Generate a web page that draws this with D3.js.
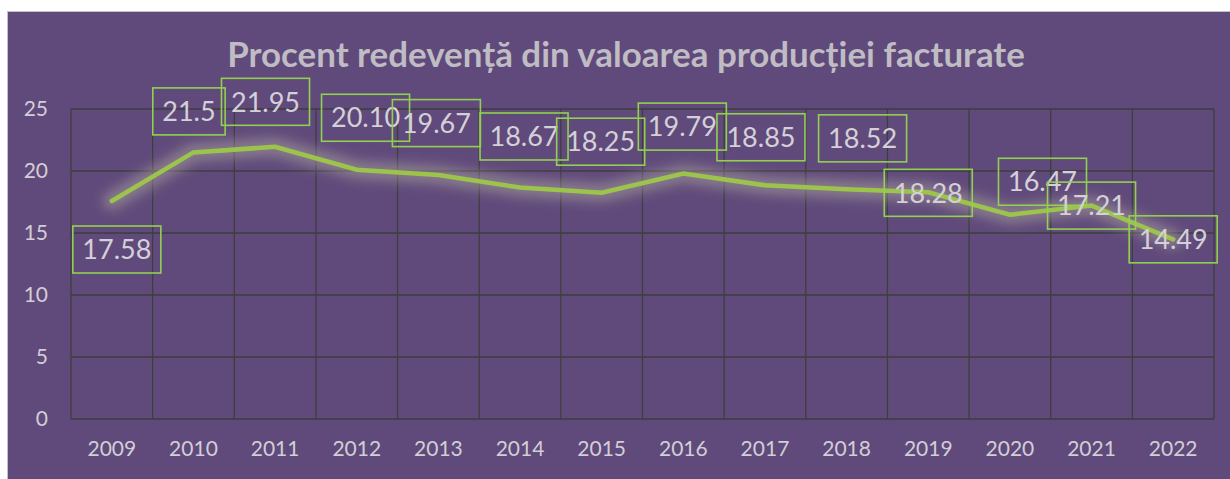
<!DOCTYPE html>
<html>
<head>
<meta charset="utf-8">
<script src="https://cdn.jsdelivr.net/npm/d3@7"></script>
<style>
  html, body { margin: 0; padding: 0; background: #ffffff; }
  svg { display: block; }
  text { font-family: Lato, "Open Sans", sans-serif; }
</style>
</head>
<body>
<svg id="chart" width="1230" height="479"></svg>
<script>
// ---- data ----
const titleText = "Procent redevență din valoarea producției facturate";
const years = ["2009","2010","2011","2012","2013","2014","2015","2016","2017","2018","2019","2020","2021","2022"];
const values = [17.58, 21.5, 21.95, 20.10, 19.67, 18.67, 18.25, 19.79, 18.85, 18.52, 18.28, 16.47, 17.21, 14.49];
const valueLabels = ["17.58","21.5","21.95","20.10","19.67","18.67","18.25","19.79","18.85","18.52","18.28","16.47","17.21","14.49"];
const yTicks = [0, 5, 10, 15, 20, 25];

// ---- layout (label box centre offsets from each point, in px) ----
const labelOffsets = [[5,48.5],[-4.5,-41],[-9.6,-45],[8.8,-52],[-2,-52],[4,-51],[-1,-51],[-1,-47],[-4,-48],[16,-51],[0,0.5],[32.6,-33],[0,0],[0,0]];

const svg = d3.select("#chart");
const W = 1230, H = 479;
const plot = {left: 71, right: 1214, top: 109, bottom: 419};

// background panel
svg.append("rect")
  .attr("x", 7.5).attr("y", 11.5)
  .attr("width", W).attr("height", H)
  .attr("fill", "#604a7b")
  .attr("stroke", "#c4c0c8").attr("stroke-width", 1);

const x = d3.scaleBand().domain(years).range([plot.left, plot.right]).padding(0);
const y = d3.scaleLinear().domain([0, 25]).range([plot.bottom, plot.top]);

const grid = svg.append("g");
grid.selectAll("line.h").data(yTicks).join("line")
  .attr("x1", plot.left).attr("x2", plot.right)
  .attr("y1", d => y(d)).attr("y2", d => y(d))
  .attr("stroke", "#3e3e3e").attr("stroke-width", 1.3);
const bounds = years.map(d => x(d)).concat([x(years[years.length-1]) + x.bandwidth()]);
grid.selectAll("line.v").data(bounds).join("line")
  .attr("x1", d => d).attr("x2", d => d)
  .attr("y1", plot.top).attr("y2", plot.bottom)
  .attr("stroke", "#3e3e3e").attr("stroke-width", 1.3);

// y axis
const yAxis = svg.append("g").attr("transform", `translate(${plot.left},0)`)
  .call(d3.axisLeft(y).tickValues(yTicks).tickSize(0).tickPadding(23));
yAxis.select(".domain").remove();
yAxis.selectAll("text").attr("fill", "#d2ced6").attr("font-size", 21).attr("font-family", "Lato, sans-serif");

// x axis
const xAxis = svg.append("g").attr("transform", `translate(0,${plot.bottom})`)
  .call(d3.axisBottom(x).tickSize(0).tickPadding(22));
xAxis.select(".domain").remove();
xAxis.selectAll("text").attr("fill", "#d2ced6").attr("font-size", 21).attr("font-family", "Lato, sans-serif");

// glow filter
const defs = svg.append("defs");
const f = defs.append("filter").attr("id", "glow")
  .attr("x", "-10%").attr("y", "-50%").attr("width", "120%").attr("height", "200%");
f.append("feGaussianBlur").attr("stdDeviation", 6);

const line = d3.line()
  .x((d, i) => x(years[i]) + x.bandwidth() / 2)
  .y(d => y(d));

svg.append("path").datum(values)
  .attr("d", line)
  .attr("fill", "none")
  .attr("stroke", "#aaa39a").attr("stroke-opacity", 0.55)
  .attr("stroke-width", 18).attr("stroke-linejoin", "round").attr("stroke-linecap", "round")
  .attr("filter", "url(#glow)");

svg.append("path").datum(values)
  .attr("d", line)
  .attr("fill", "none")
  .attr("stroke", "#9cc44c")
  .attr("stroke-width", 4.5)
  .attr("stroke-linecap", "round")
  .attr("stroke-linejoin", "miter");

// data labels
const labels = svg.append("g");
values.forEach((v, i) => {
  const cx = x(years[i]) + x.bandwidth() / 2 + labelOffsets[i][0];
  const cy = y(v) + labelOffsets[i][1];
  const g = labels.append("g");
  const t = g.append("text")
    .attr("x", cx).attr("y", cy)
    .attr("text-anchor", "middle").attr("dy", "0.36em")
    .attr("font-size", 27).attr("fill", "#d4d0d8")
    .text(valueLabels[i]);
  const w = t.node().getComputedTextLength() + 19;
  g.insert("rect", "text")
    .attr("x", cx - w / 2).attr("y", cy - 23.5)
    .attr("width", w).attr("height", 47)
    .attr("fill", "none")
    .attr("stroke", "#92d050").attr("stroke-width", 1.6);
});

// title
const title = svg.append("text")
  .attr("x", 626).attr("y", 67)
  .attr("text-anchor", "middle")
  .attr("font-weight", "bold")
  .attr("font-size", 30)
  .attr("fill", "#bfbcc3")
  .text(titleText);
const tw = title.node().getComputedTextLength();
title.attr("font-size", 30 * 798 / tw);
</script>
</body>
</html>
